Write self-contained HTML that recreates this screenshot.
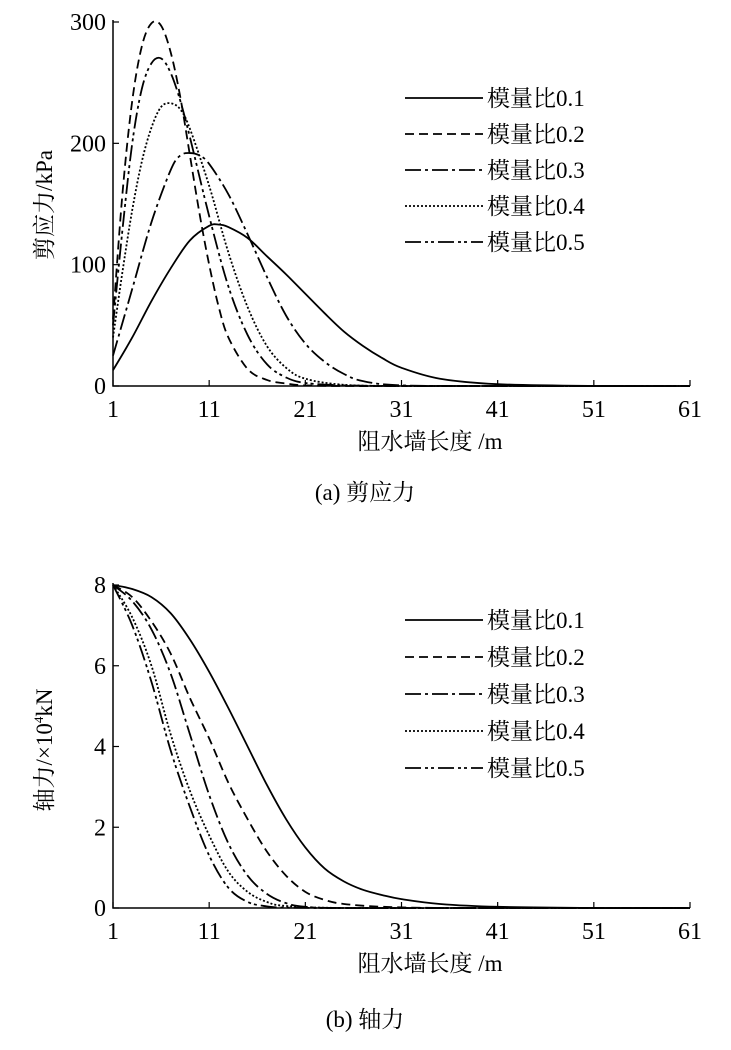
<!DOCTYPE html>
<html><head><meta charset="utf-8"><style>
body{margin:0;background:#fff}
svg text{font-family:"Liberation Serif","Noto Serif CJK SC",serif;fill:#000}
</style></head><body>
<svg id="c" width="731" height="1045" xmlns="http://www.w3.org/2000/svg"></svg>
<script>
const xTicks=[1,11,21,31,41,51,61];
const seriesNames=["模量比0.1","模量比0.2","模量比0.3","模量比0.4","模量比0.5"];
const shearX=[[1,3,5,7,9,11,12,13,15,17,19,21,23,25,27,29,31,35,41,51,61],
[1,2,3,4,5,6,7,8,9,10,11,12,13,15,17,19,21,25,35,61],
[1,3,5,7,8,9,10,11,13,15,17,19,21,23,25,27,31,41,61],
[1,2,3,4,5,6,7,8,9,11,13,15,17,19,21,25,31,41,61],
[1,2,3,4,5,6,7,8,9,11,13,15,17,19,21,25,31,41,61]];
const shearY=[[13,40,70,97,120,132,133,131,122,107,92,76,60,45,33,23,15,6,1.5,0,0],
[55,160,235,280,299,297,275,238,190,142,100,65,40,14,5,2,0.5,0,0,0],
[25,80,135,178,190,192,190,183,158,125,90,58,35,20,10,4,0.5,0,0],
[40,95,145,185,213,230,233,228,212,165,110,65,33,15,6,1,0,0,0],
[50,130,200,245,266,270,258,235,205,140,82,42,18,7,2.5,0.5,0,0,0]];
const shearTicks=[0,100,200,300];
const axialX=[[1,3,5,7,9,11,13,15,17,19,21,23,25,27,29,31,35,41,51,61],
[1,3,5,7,9,11,13,15,17,19,21,23,25,29,35,41,61],
[1,3,5,7,9,11,13,15,17,19,21,25,41,61],
[1,3,5,7,9,11,13,15,17,19,25,41,61],
[1,3,5,7,9,11,13,15,17,19,25,41,61]];
const axialY=[[8,7.9,7.7,7.3,6.65,5.85,4.95,4.0,3.05,2.2,1.5,0.98,0.66,0.45,0.32,0.22,0.1,0.03,0,0],
[8,7.7,7.1,6.3,5.2,4.2,3.1,2.2,1.4,0.8,0.4,0.2,0.1,0.03,0,0,0],
[8,7.6,6.9,5.8,4.3,2.8,1.6,0.8,0.35,0.12,0.03,0,0,0],
[8,7.2,6.0,4.3,2.9,1.8,0.9,0.4,0.15,0.05,0,0,0],
[8,7.0,5.6,3.9,2.5,1.3,0.5,0.15,0.04,0.01,0,0,0]];
const axialTicks=[0,2,4,6,8];
const dashes=["","9,5","16,4,3,4","2,2","16,4,3,3,3,4"];
const NS="http://www.w3.org/2000/svg";
const svg=document.getElementById('c');
function mk(tag,at,parent){const e=document.createElementNS(NS,tag);for(const k in at)e.setAttribute(k,at[k]);(parent||svg).appendChild(e);return e;}
function smooth(p){let d="M"+p[0][0]+","+p[0][1];for(let i=0;i<p.length-1;i++){const p0=p[Math.max(i-1,0)],p1=p[i],p2=p[i+1],p3=p[Math.min(i+2,p.length-1)];
d+=" C"+(p1[0]+(p2[0]-p0[0])/6)+","+(p1[1]+(p2[1]-p0[1])/6)+" "+(p2[0]-(p3[0]-p1[0])/6)+","+(p2[1]-(p3[1]-p1[1])/6)+" "+p2[0]+","+p2[1];}return d;}
function chart(cfg){
 const g=mk('g',{});
 
 
 const X=v=>113+(v-1)*(690-113)/60;
 const Y=v=>cfg.y0-(v/cfg.ymax)*(cfg.y0-cfg.ytop);
 const ax=mk('path',{d:`M113,${cfg.ytop-2} V${cfg.y0} H690`,stroke:'#000','stroke-width':1.5,fill:'none'},g);
 
 
 xTicks.forEach(t=>{mk('line',{x1:X(t),x2:X(t),y1:cfg.y0,y2:cfg.y0-6,stroke:'#000','stroke-width':1.2},g);
  const tx=mk('text',{x:X(t),y:cfg.y0+31,'text-anchor':'middle','font-size':24},g);tx.textContent=t;
  
  });
 cfg.ticks.forEach(t=>{mk('line',{x1:113,x2:119,y1:Y(t),y2:Y(t),stroke:'#000','stroke-width':1.2},g);
  const tx=mk('text',{x:106,y:Y(t)+8,'text-anchor':'end','font-size':24},g);tx.textContent=t;
  
  });
 cfg.xs.forEach((xs,i)=>{const pts=xs.map((x,j)=>[X(x),Y(cfg.ys[i][j])]);
  const p=mk('path',{d:smooth(pts),stroke:'#000','stroke-width':1.8,fill:'none','stroke-dasharray':dashes[i]},g);
  
  
  const ly=cfg.ly+i*cfg.lstep;
  const ll=mk('line',{x1:405,x2:483,y1:ly,y2:ly,stroke:'#000','stroke-width':1.8,'stroke-dasharray':dashes[i]},g);
  
  
  const lt=mk('text',{x:487,y:ly+8,'font-size':23},g);lt.textContent=seriesNames[i];
  
  });
 const xl=mk('text',{x:430,y:cfg.y0+63,'text-anchor':'middle','font-size':23},g);xl.textContent="阻水墙长度 /m";
 
 
 const yl=mk('text',{x:0,y:0,'text-anchor':'middle','font-size':23,transform:`translate(52,${cfg.ylY}) rotate(-90)`},g);yl.innerHTML=cfg.ytitle;
 
 
 const cap=mk('text',{x:365,y:cfg.capY,'text-anchor':'middle','font-size':23},g);cap.textContent=cfg.cap;
 
 
}
chart({name:'shear-chart',y0:386,ytop:22,ymax:300,ticks:shearTicks,xs:shearX,ys:shearY,ly:98,lstep:36,ylY:205,ytitle:'剪应力/kPa',capY:500,cap:'(a)  剪应力'});
chart({name:'axial-chart',y0:908,ytop:585,ymax:8,ticks:axialTicks,xs:axialX,ys:axialY,ly:620,lstep:37,ylY:750,ytitle:'轴力/×10<tspan font-size="13" dy="-9">4</tspan><tspan dy="9">kN</tspan>',capY:1027,cap:'(b)  轴力'});
</script>
</body></html>
